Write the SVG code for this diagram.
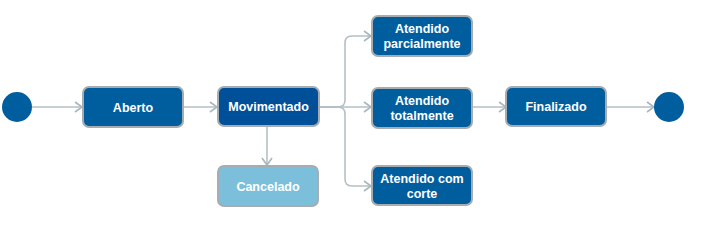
<svg xmlns="http://www.w3.org/2000/svg" width="704" height="225" viewBox="0 0 704 225">
<defs>
<marker id="arr" markerWidth="12" markerHeight="12" refX="10" refY="6" orient="auto" markerUnits="userSpaceOnUse">
<path d="M3,1 L10,6 L3,11" fill="none" stroke="#a9b6bd" stroke-width="1.6"/>
</marker>
</defs>
<style>
.n{fill:#005e9e;stroke:#a7acb1;stroke-width:2}
.d{fill:#004f99;stroke:#a7acb1;stroke-width:2}
.c{fill:#7bbfdb;stroke:#a7acb1;stroke-width:2}
.t{font-family:"Liberation Sans",Arial,sans-serif;font-size:12.5px;font-weight:bold;fill:#ffffff;text-anchor:middle}
.e{fill:none;stroke:#b3c0c6;stroke-width:1.6}
.dot{fill:#005e9e}
</style>
<rect width="704" height="225" fill="#ffffff"/>
<g id="connectors">
<path class="e" d="M32,107 H82" marker-end="url(#arr)"/>
<path class="e" d="M183,107 H217" marker-end="url(#arr)"/>
<path class="e" d="M319,107 H371" marker-end="url(#arr)"/>
<path class="e" d="M319,107 H338 Q345,107 345,100 V43 Q345,36 352,36 H371" marker-end="url(#arr)"/>
<path class="e" d="M319,107 H338 Q345,107 345,114 V179 Q345,186 352,186 H371" marker-end="url(#arr)"/>
<path class="e" d="M267,127 V165" marker-end="url(#arr)"/>
<path class="e" d="M472,107 H506" marker-end="url(#arr)"/>
<path class="e" d="M607,107 H654" marker-end="url(#arr)"/>
</g>
<g id="start"><circle class="dot" cx="17" cy="107" r="15"/></g>
<g id="aberto"><rect class="n" x="83" y="87" width="100" height="40" rx="6"/><text class="t" x="133" y="111.5">Aberto</text></g>
<g id="movimentado"><rect class="d" x="218" y="87" width="101" height="39" rx="6"/><text class="t" x="268.5" y="111">Movimentado</text></g>
<g id="cancelado"><rect class="c" x="218" y="166" width="100" height="40" rx="6"/><text class="t" x="268" y="190.5">Cancelado</text></g>
<g id="parcial"><rect class="n" x="372" y="16" width="100" height="40" rx="6"/><text class="t" x="422" y="33">Atendido</text><text class="t" x="422" y="48">parcialmente</text></g>
<g id="total"><rect class="n" x="372" y="88" width="100" height="40" rx="6"/><text class="t" x="422" y="105">Atendido</text><text class="t" x="422" y="120">totalmente</text></g>
<g id="corte"><rect class="n" x="372" y="166" width="100" height="39" rx="6"/><text class="t" x="422" y="183">Atendido com</text><text class="t" x="422" y="198">corte</text></g>
<g id="finalizado"><rect class="n" x="506" y="87" width="100" height="39" rx="6"/><text class="t" x="556" y="111">Finalizado</text></g>
<g id="end"><circle class="dot" cx="669" cy="107" r="15"/></g>
</svg>
